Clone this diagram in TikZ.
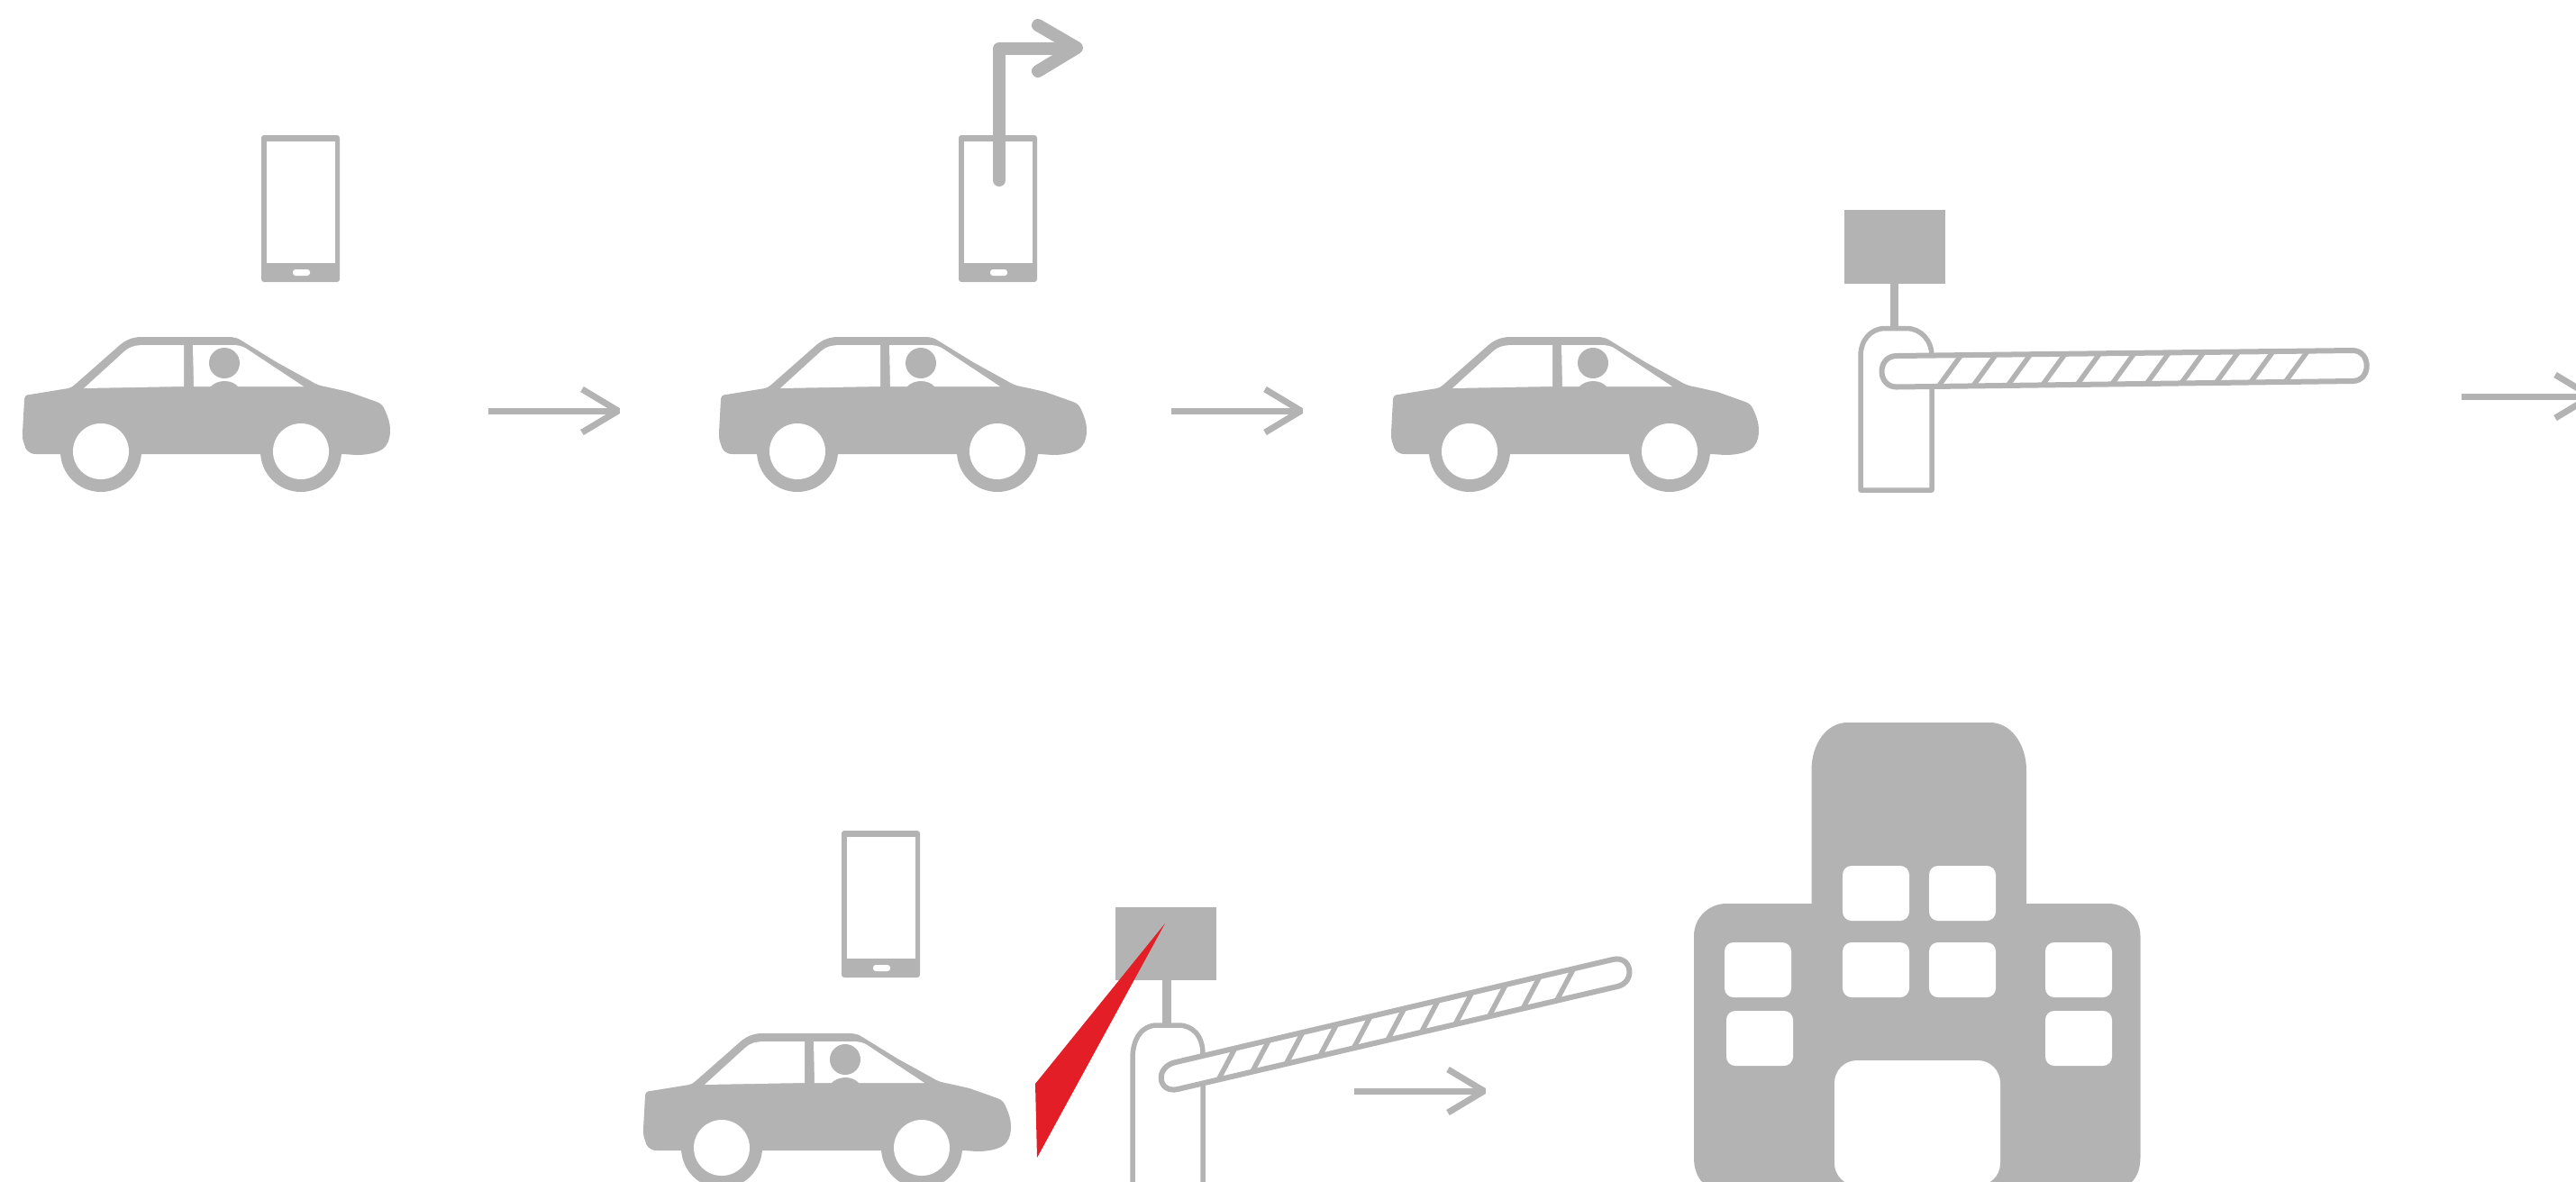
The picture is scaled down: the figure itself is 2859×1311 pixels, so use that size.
\documentclass[tikz,border=0pt]{standalone}
\definecolor{icongray}{HTML}{B3B3B3}
\definecolor{alertred}{HTML}{E41E26}
\tikzset{
  x=0.01cm,y=-0.01cm,
  solidgray/.style={fill=icongray,draw=none},
  hole/.style={fill=white,draw=none},
  outline/.style={draw=icongray,line width=0.055cm,fill=white,line join=round},
  thinstroke/.style={draw=icongray,line width=0.07cm},
  stripe/.style={draw=icongray,line width=0.055cm},
  bigarrow/.style={draw=icongray,line width=0.14cm,line cap=round,line join=round},
  pics/phoneicon/.style={code={
    \fill[solidgray,rounded corners=0.03cm] (290,150) rectangle (377,313);
    \fill[hole] (296,157) rectangle (372,292);
    \fill[hole,rounded corners=0.03cm] (325,299) rectangle (344,306);
  }},
  pics/thinarrow/.style={code={
    \draw[thinstroke] (542,456) -- (686,456);
    \draw[thinstroke,line join=bevel] (646,432) -- (686,456) -- (646,480);
  }},
  pics/caricon/.style={code={
    \fill[solidgray] (157,374) -- (253,374)
      .. controls (259,374) and (264,375) .. (268,378)
      -- (307,402) -- (345,423) .. controls (350,426) and (354,428) .. (360,429)
      .. controls (370,431) and (378,433) .. (387,435)
      -- (418,446) .. controls (424,448) and (426,452) .. (428,457)
      .. controls (431,464) and (433,470) .. (433,477)
      .. controls (433,484) and (432,490) .. (428,495)
      .. controls (424,501) and (412,505) .. (395,505)
      -- (381,504) -- (67,504) -- (40,504)
      .. controls (32,504) and (28,499) .. (27,493)
      .. controls (25,489) and (25,484) .. (25,480)
      -- (27,444) .. controls (27,440) and (29,438) .. (33,438)
      -- (76,431) .. controls (79,430) and (81,429) .. (83,427)
      -- (133,383) .. controls (140,377) and (148,374) .. (157,374) -- cycle;
    \fill[solidgray] (112,501) circle (45);
    \fill[solidgray] (334,501) circle (45);
    \fill[hole] (112,501) circle (31);
    \fill[hole] (334,501) circle (31);
    \fill[hole] (93,431) -- (204,429) -- (204,383) -- (160,383)
      .. controls (150,383) and (143,385) .. (138,390) -- cycle;
    \fill[hole] (215,429) -- (214,383) -- (258,383)
      .. controls (264,383) and (268,384) .. (272,386)
      -- (337,429) -- cycle;
    \fill[solidgray] (249,403) circle (17);
    \fill[solidgray] (233,430) .. controls (237,425) and (244,423) .. (249,423)
      .. controls (255,423) and (261,425) .. (265,430) -- cycle;
  }}
}
\begin{document}
\begin{tikzpicture}
\clip (0,0) rectangle (2859,1311);

% top row
\pic (caricona) at (0,0) {caricon};
\pic (caricontwo) at (773,0) {caricon};
\pic (caricontre) at (1519,0) {caricon};
\pic (phonea) at (0,0) {phoneicon};
\pic (phoneb) at (774,0) {phoneicon};
\pic (arra) at (0,0) {thinarrow};
\pic (arrb) at (758,0) {thinarrow};
\pic (arrc) at (2190,-16) {thinarrow};

% turn arrow leaving the phone
\draw[bigarrow] (1109,200) -- (1109,54) -- (1190,54);
\draw[bigarrow] (1152,28) -- (1195,53) -- (1152,79);

% closed barrier
\fill[solidgray] (2047,233) rectangle (2159,315);
\fill[solidgray] (2098,315) rectangle (2107,364);
\draw[outline] (2144,440) -- (2144,544) -- (2065,544) -- (2065,395)
  .. controls (2065,378) and (2076,364.5) .. (2092,364.5)
  -- (2116,364.5) .. controls (2132,364.5) and (2144,378) .. (2144,395) -- (2144,440);
\draw[outline,line width=0.06cm] (2105,395) -- (2611,389)
  .. controls (2632,389) and (2632,423) .. (2611,423)
  -- (2105,429.5) .. controls (2083,429.5) and (2083,395) .. (2105,395) -- cycle;
\foreach \i in {0,...,10}
  \draw[stripe] ({2152+38.5*\i},{428-0.013*38.5*\i}) -- ({2176+38.5*\i},{395-0.013*38.5*\i});

% lower row
\pic (caricond) at (689,773) {caricon};
\pic (phonec) at (644,772) {phoneicon};

% open barrier
\fill[solidgray] (1238,1007) rectangle (1350,1088);
\fill[solidgray] (1290,1088) rectangle (1300,1140);
\draw[outline] (1335,1230) -- (1335,1330) -- (1257,1330) -- (1257,1175)
  .. controls (1257,1152) and (1268,1138) .. (1284,1138)
  -- (1308,1138) .. controls (1324,1138) and (1335,1150) .. (1335,1170) -- (1335,1230);
\draw[outline,line width=0.06cm] (1305,1179) -- (1790,1065)
  .. controls (1811,1060) and (1816,1090) .. (1795,1095)
  -- (1307,1209) .. controls (1285,1214) and (1281,1184) .. (1305,1179) -- cycle;
\foreach \i in {0,...,10}
  \draw[stripe] ({1353+37.5*\i},{1197-8.7*\i}) -- ({1371+37.5*\i},{1163-8.7*\i});
\fill[alertred] (1149,1203) -- (1293,1025) -- (1151,1285) -- cycle;
\pic (arrd) at (961,755) {thinarrow};

% building
\fill[solidgray] (1880,1039) .. controls (1880,1019) and (1896,1003) .. (1916,1003)
  -- (2010.5,1003) -- (2010.5,855) .. controls (2010.5,825) and (2028,802) .. (2050,802)
  -- (2209,802) .. controls (2231,802) and (2249,825) .. (2249,855)
  -- (2249,1003) -- (2340,1003) .. controls (2360,1003) and (2375.5,1019) .. (2375.5,1039)
  -- (2375.5,1285) .. controls (2375.5,1305) and (2365,1320) .. (2345,1320)
  -- (1910,1320) .. controls (1890,1320) and (1880,1305) .. (1880,1285) -- cycle;
\foreach \xa/\ya in {2045/961,2141/961,1914/1046,2045/1046,2141/1046,2270/1046,1916/1122,2270/1122}
  \fill[hole,rounded corners=0.1cm] (\xa,\ya) rectangle ++(74,61);
\fill[hole,rounded corners=0.25cm] (2036,1177) rectangle (2220,1316);
\end{tikzpicture}
\end{document}
